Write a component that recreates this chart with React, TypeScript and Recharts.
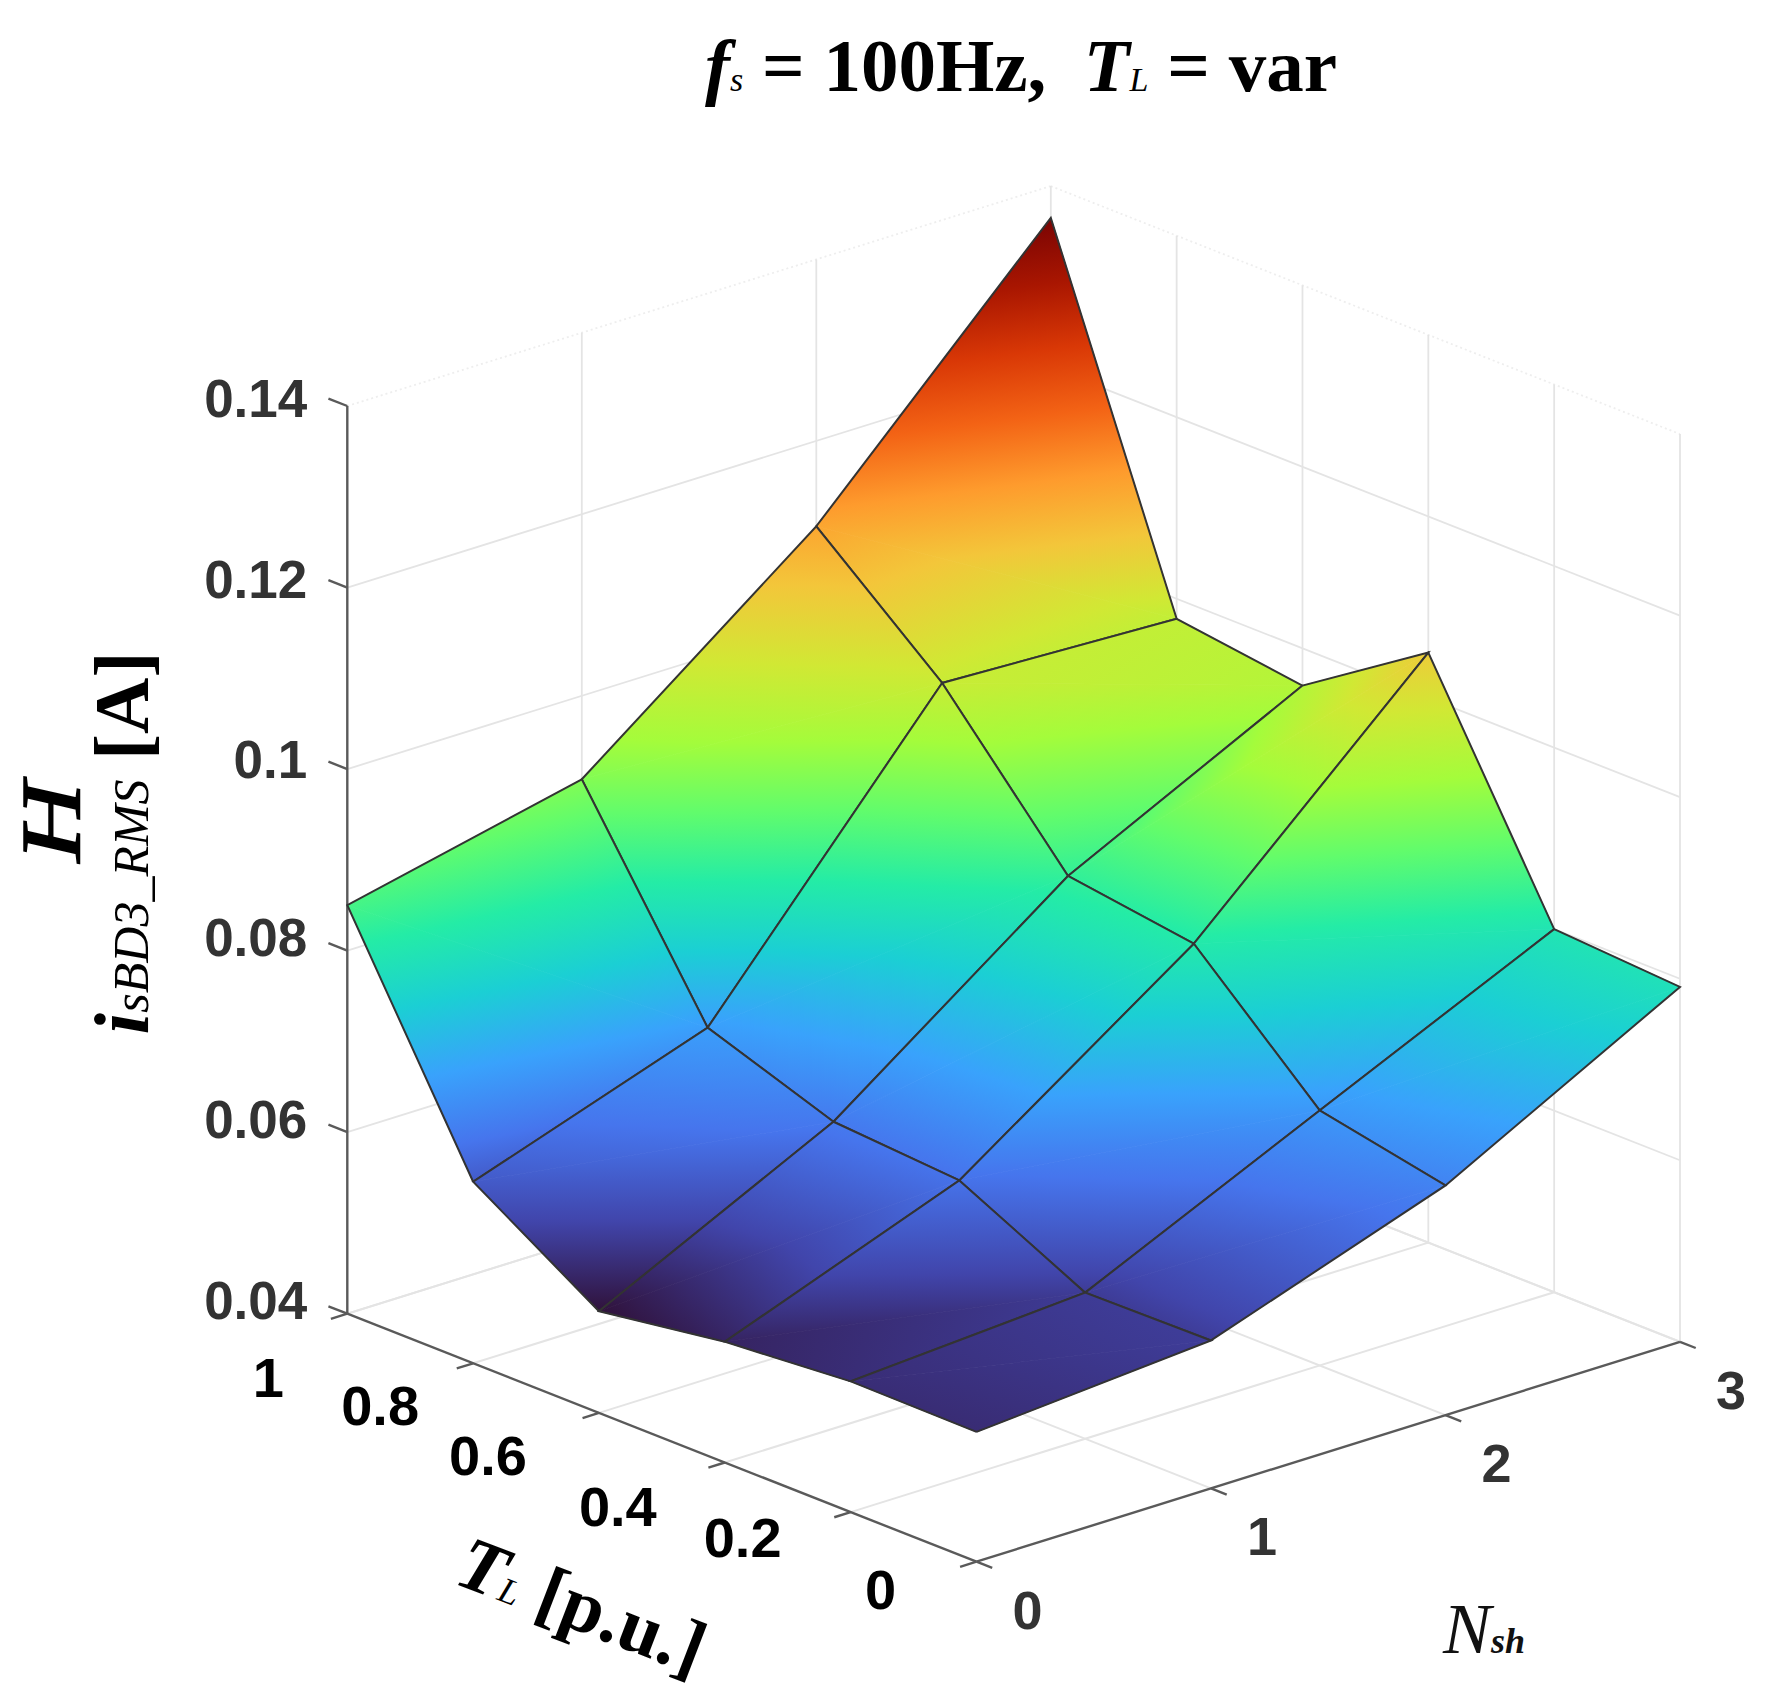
import React from 'react';
import { ScatterChart, Scatter, XAxis, YAxis } from 'recharts';

const WIDTH = 1768;
const HEIGHT = 1697;

// surface values, one row per Nsh, T_L ascending
const T_VALUES = [0, 0.2, 0.4, 0.6, 0.8, 1];
const N_VALUES = [0, 1, 2, 3];
const H_N0 = [0.0543, 0.0544, 0.0533, 0.0512, 0.06, 0.085];
const H_N1 = [0.0563, 0.0561, 0.063, 0.064, 0.0689, 0.0908];
const H_N2 = [0.0653, 0.0681, 0.081, 0.083, 0.0988, 0.1106];
const H_N3 = [0.0791, 0.08, 0.105, 0.0959, 0.0978, 0.1365];
const H_ROWS = [H_N0, H_N1, H_N2, H_N3];

const Z_TICKS = [0.04, 0.06, 0.08, 0.1, 0.12, 0.14];
const Z_LABELS = ['0.04', '0.06', '0.08', '0.1', '0.12', '0.14'];
const T_LABELS = ['0', '0.2', '0.4', '0.6', '0.8', '1'];
const N_LABELS = ['0', '1', '2', '3'];

// hand placed in the original, so they do not follow one offset
const T_LABEL_NUDGE = [
  [-96, 28],
  [-108, 25],
  [-107, 44],
  [-111, 42],
  [-93, 42],
  [-79, 64],
];
const Z_LABEL_NUDGE = [-13, -13, -13, -10, -8, -8];

const TURBO = [
  '#30123b', '#4145ab', '#4675ed', '#39a2fc', '#1bcfd4', '#24eca6', '#61fc6c', '#a4fc3b',
  '#d1e834', '#f3c63a', '#fe9b2d', '#f36315', '#d93806', '#a91601', '#7a0403',
];

const Z_BASE = 0.04;
const Z_TOP = 0.14;
const H_MIN = Math.min(...H_ROWS.flat());
const H_MAX = Math.max(...H_ROWS.flat());

// orthographic view of the box, MATLAB style
const project = (t: number, n: number, h: number) => ({
  x: 976.5 + 234.5 * n - 629.2 * t,
  y: 1561.7 - 73.3 * n - 248 * t - 9077 * (h - Z_BASE),
  h,
});

const SANS = '"Liberation Sans", Arial, sans-serif';
const SERIF = '"Liberation Serif", "Times New Roman", serif';
const noShape = () => null;

function Facet({ points, hs, id }: any) {
  const [p0, p1, p2] = points;
  const ax = p1.x - p0.x;
  const ay = p1.y - p0.y;
  const bx = p2.x - p0.x;
  const by = p2.y - p0.y;
  const da = hs[1] - hs[0];
  const db = hs[2] - hs[0];
  const det = ax * by - ay * bx;
  const gx = (da * by - db * ay) / det;
  const gy = (ax * db - bx * da) / det;
  const g2 = gx * gx + gy * gy;
  const d = `M${p0.x},${p0.y}L${p1.x},${p1.y}L${p2.x},${p2.y}Z`;
  return (
    <g>
      <defs>
        <linearGradient
          id={id}
          gradientUnits="userSpaceOnUse"
          x1={p0.x + (gx / g2) * (H_MIN - hs[0])}
          y1={p0.y + (gy / g2) * (H_MIN - hs[0])}
          x2={p0.x + (gx / g2) * (H_MAX - hs[0])}
          y2={p0.y + (gy / g2) * (H_MAX - hs[0])}
        >
          {TURBO.map((c, i) => (
            <stop key={i} offset={i / (TURBO.length - 1)} stopColor={c} />
          ))}
        </linearGradient>
      </defs>
      <path d={d} fill={`url(#${id})`} stroke={`url(#${id})`} strokeWidth={0.8} />
    </g>
  );
}

const Segment = (pts: any[], stroke: string, width: number, key: string, dash?: string) => (
  <Scatter
    key={key}
    data={pts}
    shape={noShape}
    isAnimationActive={false}
    legendType="none"
    line={{ stroke, strokeWidth: width, strokeDasharray: dash }}
  />
);

const TextMark = (x: number, y: number, key: string, render: (cx: number, cy: number) => any) => (
  <Scatter
    key={key}
    data={[{ x, y }]}
    isAnimationActive={false}
    legendType="none"
    shape={(p: any) => render(p.cx, p.cy)}
  />
);

function gridLines() {
  const out: any[] = [];
  const soft = '#e4e4e4';
  const top = '#eeeeee';
  // floor
  T_VALUES.forEach((t, i) => {
    if (i > 0) out.push(Segment([project(t, 0, Z_BASE), project(t, 3, Z_BASE)], soft, 2, `ft${i}`));
  });
  N_VALUES.forEach((n, i) => {
    if (i > 0) out.push(Segment([project(0, n, Z_BASE), project(1, n, Z_BASE)], soft, 2, `fn${i}`));
  });
  // back walls, horizontal
  Z_TICKS.forEach((z, i) => {
    const last = i === Z_TICKS.length - 1;
    out.push(Segment([project(1, 0, z), project(1, 3, z)], last ? top : soft, 1.8, `wa${i}`, last ? '2 3' : undefined));
    out.push(Segment([project(1, 3, z), project(0, 3, z)], last ? top : soft, 1.8, `wb${i}`, last ? '2 3' : undefined));
  });
  // back walls, vertical
  N_VALUES.forEach((n, i) => {
    if (i > 0) out.push(Segment([project(1, n, Z_BASE), project(1, n, Z_TOP)], soft, 1.8, `wv${i}`));
  });
  T_VALUES.forEach((t, i) => {
    if (i < 5) out.push(Segment([project(t, 3, Z_BASE), project(t, 3, Z_TOP)], soft, 1.8, `wu${i}`));
  });
  return out;
}

function axisLines() {
  const axis = '#5a5a5a';
  const out: any[] = [
    Segment([project(1, 0, Z_BASE), project(1, 0, Z_TOP)], axis, 2.4, 'az'),
    Segment([project(1, 0, Z_BASE), project(0, 0, Z_BASE)], axis, 2.4, 'at'),
    Segment([project(0, 0, Z_BASE), project(0, 3, Z_BASE)], axis, 2.4, 'an'),
  ];
  Z_TICKS.forEach((z, i) => out.push(Segment([project(1, 0, z), project(1.03, 0, z)], axis, 2.4, `tz${i}`)));
  T_VALUES.forEach((t, i) => out.push(Segment([project(t, 0, Z_BASE), project(t, -0.07, Z_BASE)], axis, 2.4, `tt${i}`)));
  N_VALUES.forEach((n, i) => out.push(Segment([project(0, n, Z_BASE), project(-0.025, n, Z_BASE)], axis, 2.4, `tn${i}`)));
  return out;
}

function surface() {
  const out: any[] = [];
  for (let i = T_VALUES.length - 2; i >= 0; i--) {
    for (let j = N_VALUES.length - 2; j >= 0; j--) {
      const a = project(T_VALUES[i], N_VALUES[j], H_ROWS[j][i]);
      const b = project(T_VALUES[i], N_VALUES[j + 1], H_ROWS[j + 1][i]);
      const c = project(T_VALUES[i + 1], N_VALUES[j + 1], H_ROWS[j + 1][i + 1]);
      const d = project(T_VALUES[i + 1], N_VALUES[j], H_ROWS[j][i + 1]);
      [[a, b, d], [b, c, d]].forEach((tri, k) => {
        const id = `facet-${i}-${j}-${k}`;
        out.push(
          <Scatter
            key={id}
            data={tri}
            shape={noShape}
            isAnimationActive={false}
            legendType="none"
            line={(p: any) => <Facet points={p.points} hs={tri.map((v) => v.h)} id={id} />}
          />,
        );
      });
      out.push(Segment([a, b, c, d, a], '#333333', 2, `edge-${i}-${j}`));
    }
  }
  return out;
}

function tickText() {
  const out: any[] = [];
  Z_TICKS.forEach((z, i) => {
    const p = project(1, 0, z);
    out.push(
      TextMark(p.x - 40, p.y + Z_LABEL_NUDGE[i], `zl${i}`, (cx, cy) => (
        <text x={cx} y={cy} dy="0.35em" textAnchor="end" fontFamily={SANS} fontWeight={700} fontSize={53} fill="#333">
          {Z_LABELS[i]}
        </text>
      )),
    );
  });
  T_VALUES.forEach((t, i) => {
    const p = project(t, 0, Z_BASE);
    out.push(
      TextMark(p.x + T_LABEL_NUDGE[i][0], p.y + T_LABEL_NUDGE[i][1], `tl${i}`, (cx, cy) => (
        <text x={cx} y={cy} dy="0.35em" textAnchor="middle" fontFamily={SANS} fontWeight={700} fontSize={56} fill="#000">
          {T_LABELS[i]}
        </text>
      )),
    );
  });
  N_VALUES.forEach((n, i) => {
    const p = project(0, n, Z_BASE);
    out.push(
      TextMark(p.x + 51, p.y + 48, `nl${i}`, (cx, cy) => (
        <text x={cx} y={cy} dy="0.35em" textAnchor="middle" fontFamily={SANS} fontWeight={700} fontSize={54} fill="#333">
          {N_LABELS[i]}
        </text>
      )),
    );
  });
  return out;
}

function titles() {
  return [
    TextMark(1021, 91, 'title', (cx, cy) => (
      <text x={cx} y={cy} textAnchor="middle" fontFamily={SERIF} fontWeight={700} fontSize={75} fill="#000" xmlSpace="preserve">
        <tspan fontStyle="italic">f</tspan>
        <tspan fontStyle="italic" fontSize={34} fontWeight={400}>s</tspan>
        <tspan> = 100Hz,  </tspan>
        <tspan fontStyle="italic">T</tspan>
        <tspan fontStyle="italic" fontSize={34} fontWeight={400}>L</tspan>
        <tspan> = var</tspan>
      </text>
    )),
    TextMark(80, 822, 'ylabel1', (cx, cy) => (
      <text
        x={cx}
        y={cy}
        textAnchor="middle"
        transform={`rotate(-90 ${cx} ${cy})`}
        fontFamily={SERIF}
        fontStyle="italic"
        fontSize={84}
        fill="#000"
        stroke="#000"
        strokeWidth={1.5}
        textLength={80}
        lengthAdjust="spacingAndGlyphs"
      >
        H
      </text>
    )),
    TextMark(148, 843, 'ylabel2', (cx, cy) => (
      <text x={cx} y={cy} textAnchor="middle" transform={`rotate(-90 ${cx} ${cy})`} fontFamily={SERIF} fontSize={78} fill="#000">
        <tspan fontStyle="italic" fontWeight={700}>i</tspan>
        <tspan fontStyle="italic" fontSize={50}>sBD3_RMS</tspan>
        <tspan fontWeight={700}> [A]</tspan>
      </text>
    )),
    TextMark(573, 1629, 'xlabel', (cx, cy) => (
      <text x={cx} y={cy} textAnchor="middle" transform={`rotate(21 ${cx} ${cy})`} fontFamily={SERIF} fontWeight={700} fontSize={76} fill="#000">
        <tspan fontStyle="italic">T</tspan>
        <tspan fontStyle="italic" fontSize={36} fontWeight={400}>L</tspan>
        <tspan> [p.u.]</tspan>
      </text>
    )),
    TextMark(1484, 1653, 'nlabel', (cx, cy) => (
      <text x={cx} y={cy} textAnchor="middle" fontFamily={SERIF} fontStyle="italic" fontSize={72} fill="#111">
        N<tspan fontSize={36} fontWeight={700}>sh</tspan>
      </text>
    )),
  ];
}

export default function App() {
  return (
    <div style={{ position: 'absolute', left: 0, top: 0, width: WIDTH, height: HEIGHT, background: '#fff' }}>
      <ScatterChart width={WIDTH} height={HEIGHT} margin={{ top: 0, right: 0, bottom: 0, left: 0 }}>
        <XAxis type="number" dataKey="x" domain={[0, WIDTH]} hide />
        <YAxis type="number" dataKey="y" domain={[0, HEIGHT]} reversed hide />
        {gridLines()}
        {axisLines()}
        {surface()}
        {tickText()}
        {titles()}
      </ScatterChart>
    </div>
  );
}
